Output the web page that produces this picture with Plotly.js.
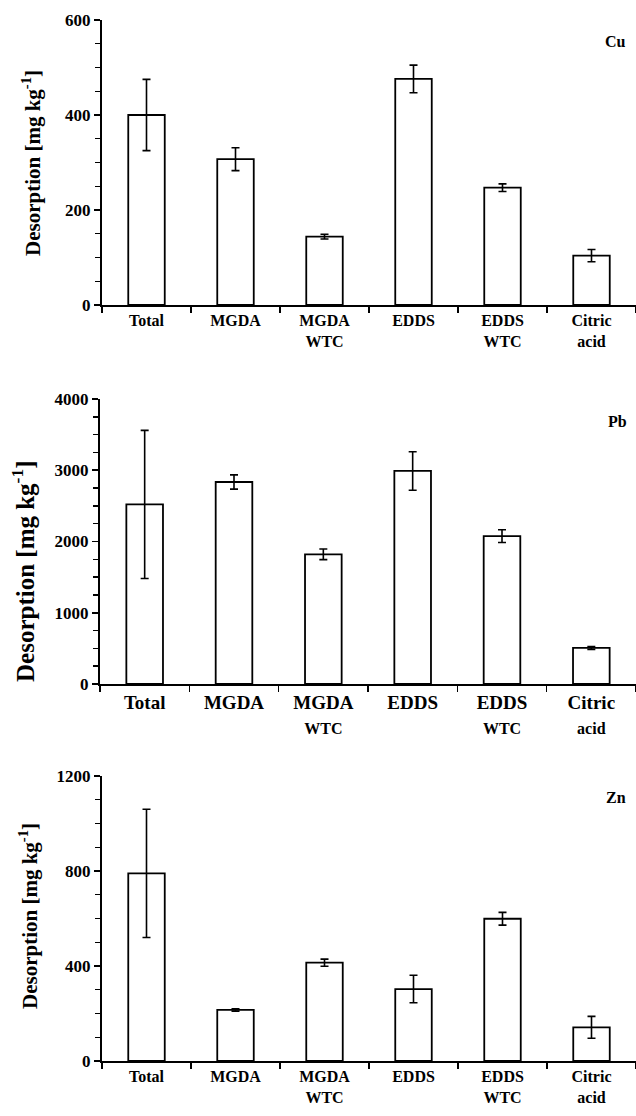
<!DOCTYPE html>
<html>
<head>
<meta charset="utf-8">
<script src="https://cdn.plot.ly/plotly-3.0.1.min.js"></script>
<style>html,body{margin:0;padding:0;background:#fff;}#chart{width:636px;height:1116px;}</style>
</head>
<body>
<div id="chart"></div>
<script>
// Categories and tick labels
const categories = ['Total', 'MGDA', 'MGDA WTC', 'EDDS', 'EDDS WTC', 'Citric acid'];
const tickLabels = ['Total', 'MGDA', 'MGDA<br>WTC', 'EDDS', 'EDDS<br>WTC', 'Citric<br>acid'];
const tickLabelsPb = ['Total', 'MGDA', 'MGDA<br><span style="font-size:16px">WTC</span>', 'EDDS',
  'EDDS<br><span style="font-size:16px">WTC</span>', 'Citric<br><span style="font-size:16px">acid</span>'];
const panelNames = ['Cu', 'Pb', 'Zn'];
const yTitle = 'Desorption [mg kg<sup>-1</sup>]';

// Series values (mg/kg) and error magnitudes
const cuValues = [400, 307, 144, 476, 247, 104];
const cuErrors = [75, 24, 5, 29, 8, 13];
const pbValues = [2520, 2835, 1820, 2990, 2075, 506];
const pbErrors = [1040, 100, 75, 270, 90, 20];
const znValues = [790, 215, 414, 303, 599, 142];
const znErrors = [270, 5, 15, 58, 27, 46];

const FONT = 'Liberation Serif';
const TICKCOLOR = '#000000';

function barTrace(vals, errs, xa, ya) {
  return {
    type: 'bar', x: categories, y: vals, xaxis: xa, yaxis: ya,
    width: 0.41,
    marker: {color: '#ffffff', line: {color: '#000000', width: 1.8}},
    error_y: {type: 'data', array: errs, visible: true, color: '#000000', thickness: 1.6, width: 4},
    showlegend: false, hoverinfo: 'x+y'
  };
}

const data = [
  barTrace(cuValues, cuErrors, 'x', 'y'),
  barTrace(pbValues, pbErrors, 'x2', 'y2'),
  barTrace(znValues, znErrors, 'x3', 'y3')
];

function xAxis(domain, anchor, labels, size) {
  return {
    domain: domain, anchor: anchor, type: 'category',
    range: [-0.5, 5.5], tickmode: 'array', tickvals: categories, ticktext: labels,
    tickson: 'boundaries', ticks: 'outside', ticklen: 6, tickwidth: 1.6, tickcolor: TICKCOLOR,
    showline: true, linecolor: '#000', linewidth: 2, showgrid: false, zeroline: false,
    tickfont: {family: FONT, size: size, color: '#000', weight: 'bold'}
  };
}

function yAxis(domain, anchor, max, labelStep, minorStep) {
  return {
    domain: domain, anchor: anchor, range: [0, max],
    tickmode: 'linear', tick0: 0, dtick: labelStep,
    ticks: 'outside', ticklen: 6, tickwidth: 1.6, tickcolor: TICKCOLOR,
    minor: {ticks: 'outside', ticklen: 5, tickwidth: 1.4, tickcolor: TICKCOLOR, dtick: minorStep},
    showline: true, linecolor: '#000', linewidth: 2, showgrid: false, zeroline: false,
    tickfont: {family: FONT, size: 17, color: '#000', weight: 'bold'}
  };
}

const H = 1116, W = 636;
const titlePos = [{x: 31, y: 163, size: 21}, {x: 23, y: 571, size: 25}, {x: 28, y: 916, size: 21}];
const namePos = [{x: 615, y: 42}, {x: 617, y: 422}, {x: 616, y: 797}];

const annotations = [];
panelNames.forEach((name, i) => {
  annotations.push({
    text: name, xref: 'paper', yref: 'paper', x: namePos[i].x / W, y: 1 - namePos[i].y / H,
    xanchor: 'center', yanchor: 'middle', showarrow: false,
    font: {family: FONT, size: 16, color: '#000', weight: 'bold'}
  });
  annotations.push({
    text: yTitle, textangle: -90, xref: 'paper', yref: 'paper',
    x: titlePos[i].x / W, y: 1 - titlePos[i].y / H,
    xanchor: 'center', yanchor: 'middle', showarrow: false,
    font: {family: FONT, size: titlePos[i].size, color: '#000', weight: 'bold'}
  });
});

const layout = {
  width: W, height: H,
  margin: {l: 0, r: 0, t: 0, b: 0},
  paper_bgcolor: '#fff', plot_bgcolor: '#fff',
  font: {family: FONT},
  bargap: 0.59,
  xaxis: xAxis([102 / W, 1], 'y', tickLabels, 16),
  yaxis: yAxis([1 - 305 / H, 1 - 20 / H], 'x', 600, 200, 50),
  xaxis2: xAxis([100 / W, 1], 'y2', tickLabelsPb, 19),
  yaxis2: yAxis([1 - 684 / H, 1 - 399 / H], 'x2', 4000, 1000, 250),
  xaxis3: xAxis([102 / W, 1], 'y3', tickLabels, 16),
  yaxis3: yAxis([1 - 1061 / H, 1 - 776 / H], 'x3', 1200, 400, 100),
  annotations: annotations
};

Plotly.newPlot('chart', data, layout, {displayModeBar: false, staticPlot: true});
</script>
</body>
</html>
